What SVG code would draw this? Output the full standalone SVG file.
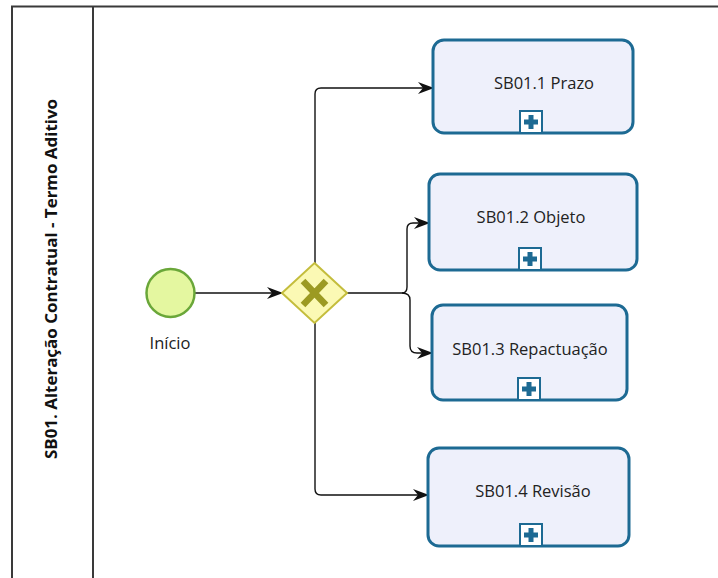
<svg xmlns="http://www.w3.org/2000/svg" width="718" height="578" viewBox="0 0 718 578">
  <defs>
    <style>
      .pool { fill: none; stroke: #3a3a3a; stroke-width: 2; }
      .lane-title { font-family: "Open Sans", "Noto Sans", sans-serif; font-weight: bold; font-size: 16px; fill: #111; }
      .body { fill: #eef0fb; stroke: #1d6a93; stroke-width: 3; }
      .marker { fill: #ffffff; stroke: #1d6a93; stroke-width: 2; }
      .plus { fill: #1d6a93; }
      .label { font-family: "Open Sans", "Noto Sans", sans-serif; font-size: 16.5px; fill: #222; }
      .flow { fill: none; stroke: #111; stroke-width: 1.4; marker-end: url(#arrow); }
    </style>
    <marker id="arrow" viewBox="0 0 16 12" refX="15" refY="6" markerWidth="16" markerHeight="12" markerUnits="userSpaceOnUse" orient="auto">
      <path d="M0,0 L16,6 L0,12 L5,6 Z" fill="#111"/>
    </marker>
    <!-- collapsed sub-process marker (square with a plus) -->
    <g id="subMarker">
      <rect class="marker" x="-11" y="-11" width="22" height="22"/>
      <path class="plus" d="M-2.5,-7 H2.5 V-2.5 H7 V2.5 H2.5 V7 H-2.5 V2.5 H-7 V-2.5 H-2.5 Z"/>
    </g>
  </defs>

  <rect width="718" height="578" fill="#ffffff"/>

  <!-- pool and lane header -->
  <g id="pool">
    <path class="pool" d="M12,578 V6.5 H718"/>
    <line class="pool" x1="93" y1="6" x2="93" y2="578"/>
    <text class="lane-title" transform="translate(57,279) rotate(-90)" text-anchor="middle" textLength="360" lengthAdjust="spacingAndGlyphs">SB01. Alteração Contratual - Termo Aditivo</text>
  </g>

  <!-- sequence flows -->
  <g id="connectors">
    <path class="flow" d="M195,293 H282"/>
    <path class="flow" d="M315,263 V94 Q315,88 321,88 H433"/>
    <path class="flow" d="M347,293 H402 Q407,293 407,287 V229 Q407,223 413,223 H429"/>
    <path class="flow" d="M402,293 Q410,293 410,300 V346 Q410,353 417,353 H432"/>
    <path class="flow" d="M315,323 V489 Q315,495 321,495 H428"/>
  </g>

  <g id="start">
    <circle cx="170.5" cy="293" r="24" fill="#e4f7a0" stroke="#6aa739" stroke-width="2.5"/>
    <text class="label" x="170" y="349" text-anchor="middle">Início</text>
  </g>

  <g id="gateway">
    <path d="M314.5,263 L347,293 L314.5,323 L282,293 Z" fill="#fbf9b4" stroke="#c4bd3c" stroke-width="2"/>
    <path d="M303,281 L326,305 M326,281 L303,305" stroke="#9c9a22" stroke-width="6.5" stroke-linecap="butt"/>
  </g>

  <g id="task-prazo" class="task">
    <rect class="body" x="433" y="40" width="200" height="93" rx="11"/>
    <text class="label" x="544" y="89" text-anchor="middle">SB01.1 Prazo</text>
    <use href="#subMarker" x="531" y="122"/>
  </g>

  <g id="task-objeto" class="task">
    <rect class="body" x="429" y="174" width="208" height="96" rx="11"/>
    <text class="label" x="531" y="223" text-anchor="middle">SB01.2 Objeto</text>
    <use href="#subMarker" x="530" y="259"/>
  </g>

  <g id="task-repactuacao" class="task">
    <rect class="body" x="432" y="305" width="195" height="95" rx="11"/>
    <text class="label" x="530" y="355" text-anchor="middle">SB01.3 Repactuação</text>
    <use href="#subMarker" x="529" y="389"/>
  </g>

  <g id="task-revisao" class="task">
    <rect class="body" x="428" y="448" width="201" height="98" rx="11"/>
    <text class="label" x="533" y="497" text-anchor="middle">SB01.4 Revisão</text>
    <use href="#subMarker" x="531" y="535"/>
  </g>
</svg>
